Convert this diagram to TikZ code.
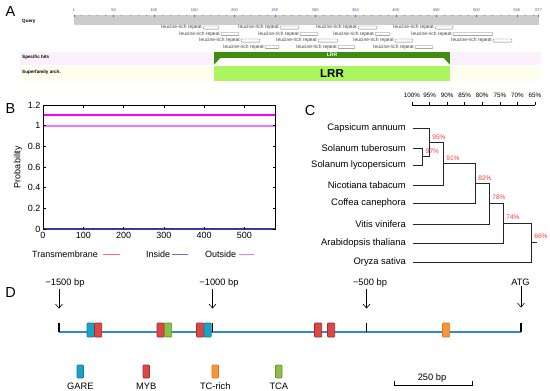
\documentclass[tikz,border=0pt]{standalone}
\usepackage{fontspec}
\setmainfont{Liberation Sans}
\usepackage{tikz}
\usetikzlibrary{arrows.meta}
\definecolor{rulergrey}{HTML}{CCCCCC}
\definecolor{rulerblue}{HTML}{4646C8}
\definecolor{hitpink}{HTML}{FCF0FC}
\definecolor{archyellow}{HTML}{FEFEEE}
\definecolor{lrrdark}{HTML}{3F8E0F}
\definecolor{lrrlight}{HTML}{AAF560}
\definecolor{tmred}{HTML}{FF7070}
\definecolor{inblue}{HTML}{6A6AF0}
\definecolor{outpink}{HTML}{FF70FF}
\definecolor{topmagenta}{HTML}{FF00FF}
\definecolor{zeroblue}{HTML}{3A3A9A}
\definecolor{pctred}{HTML}{FF3B3B}
\definecolor{seqblue}{HTML}{2E8BCB}
\definecolor{garefill}{HTML}{19A3C7}
\definecolor{gareline}{HTML}{137C98}
\definecolor{mybfill}{HTML}{DB4646}
\definecolor{mybline}{HTML}{A52A2A}
\definecolor{tcfill}{HTML}{F5963A}
\definecolor{tcline}{HTML}{DE7420}
\definecolor{tcafill}{HTML}{8DBE4B}
\definecolor{tcaline}{HTML}{6A962E}

\begin{document}
\begin{tikzpicture}[x=1pt,y=-1pt,
  panel/.style={font=\fontsize{14.5}{16}\selectfont,inner sep=0},
  hitlab/.style={font=\fontsize{4.6}{5}\selectfont\bfseries,anchor=west,inner sep=0},
  qnum/.style={font=\fontsize{4}{4}\selectfont,text=rulerblue,inner sep=0},
  replab/.style={font=\fontsize{4.9}{5}\selectfont,anchor=east,inner sep=0,text=black!75},
  repbox/.style={draw=black!55,line width=0.3pt,rounded corners=1pt},
  tick/.style={font=\fontsize{9}{10}\selectfont,inner sep=1pt},
  taxon/.style={anchor=east,font=\fontsize{9.4}{11}\selectfont,inner sep=0},
  scalelab/.style={font=\fontsize{6.3}{7}\selectfont,inner sep=0},
  pct/.style={text=pctred,font=\fontsize{6.6}{7}\selectfont,inner sep=0},
  branch/.style={line width=0.9pt,black!85},
  bplab/.style={font=\fontsize{9.3}{10}\selectfont,inner sep=1pt},
  darrow/.style={-{Straight Barb[length=4pt,width=7pt]},line width=0.6pt},
  site/.style={rounded corners=0.8pt,line width=0.7pt},
  gare/.style={site,fill=garefill,draw=gareline},
  myb/.style={site,fill=mybfill,draw=mybline},
  tcrich/.style={site,fill=tcfill,draw=tcline},
  tca/.style={site,fill=tcafill,draw=tcaline}]
  \useasboundingbox (0,0) rectangle (550,391);

  % panel A
  \node[panel] (pA) at (10.5,11.5) {A};
  \fill[rulergrey] (74,14.5) rectangle (539,24.5);
  \foreach \n in {10,20,...,570}
    \draw[black!45,line width=0.3pt] ({74+0.8066*(\n-1)},14.5) -- ++(0,1.5);
  \foreach \n in {1,50,100,150,200,250,300,350,400,450,500,550,577} {
    \draw[black!60,line width=0.3pt] ({74+0.8066*(\n-1)},14.5) -- ++(0,2.5);
    \node[qnum] (q\n) at ({74+0.8066*(\n-1)},10.5) {\n};
  }
  \node[hitlab] (qy) at (22,21.5) {Query};
  \foreach \a/\b/\y in {203/219/27.5,280/299/27.5,358/377/27.5,435/453/27.5,
      221/239/34,300/318/34,375/390/34,453/493/34,
      241/260/40.5,318/338/40.5,395/413/40.5,493/512/40.5,
      265/279/47,338/355/47,415/433/47} {
    \draw[repbox] (\a,\y-1.6) rectangle (\b,\y+1.6);
    \node[replab] (r\a) at (\a-1,\y) {leucine-rich repeat};
  }
  \fill[hitpink] (20,52) rectangle (541,65);
  \fill[archyellow] (20,65.5) rectangle (541,81);
  \node[hitlab] (sh) at (22,57) {Specific hits};
  \node[hitlab] (sa) at (22,72) {Superfamily arch.};
  \fill[lrrdark] (214,52) rectangle (450,65);
  \fill[white] (220.5,58) -- (443.5,58) -- (450,65) -- (214,65) -- cycle;
  \node[font=\fontsize{5}{5}\selectfont\bfseries,text=white,inner sep=0] (hitlrr) at (332,54.8) {LRR};
  \fill[lrrlight] (214,66) rectangle (450,81);
  \node[font=\fontsize{11.5}{12}\selectfont\bfseries,inner sep=0] (archlrr) at (332,73.5) {LRR};

  % panel B
  \node[panel] (pB) at (10.5,109) {B};
  \fill[outpink] (43.5,125) rectangle (275,126.6);
  \fill[topmagenta] (43.5,114.4) rectangle (275,116.2);
  \draw[line width=0.6pt] (43,105) rectangle (275.5,229);
  \draw[zeroblue,line width=1.2pt] (43,229) -- (275.5,229);
  \foreach \v in {0,0.2,0.4,0.6,0.8,1,1.2} {
    \draw[line width=0.4pt] (43,{229-103.33*\v}) -- ++(2.5,0);
    \draw[line width=0.4pt] (275.5,{229-103.33*\v}) -- ++(-2.5,0);
    \node[tick,anchor=east] at (41.5,{229-103.33*\v}) {\v};
  }
  \foreach \n in {0,100,...,500} {
    \draw[line width=0.4pt] ({43+0.40295*\n},229) -- ++(0,-2.5);
    \draw[line width=0.4pt] ({43+0.40295*\n},105) -- ++(0,2.5);
    \node[tick,anchor=north] at ({43+0.40295*\n},231) {\n};
  }
  \node[tick,rotate=90] (prob) at (18,167) {Probability};
  \node[tick,anchor=west,inner sep=0] (ltm) at (32,254) {Transmembrane};
  \draw[tmred,line width=0.6pt] ([xshift=5pt]ltm.east) -- ++(17,0);
  \node[tick,anchor=west,inner sep=0] (lin) at (146,254) {Inside};
  \draw[inblue,line width=0.6pt] ([xshift=2pt]lin.east) -- ++(16,0);
  \node[tick,anchor=west,inner sep=0] (lout) at (205,254) {Outside};
  \draw[outpink,line width=0.6pt] ([xshift=3pt]lout.east) -- ++(15,0);

  % panel C
  \node[panel] (pC) at (310,110.5) {C};
  \draw[line width=0.7pt] (412,105) -- (535,105);
  \foreach \p [count=\i from 0] in {100,95,...,65} {
    \draw[line width=0.6pt] (412+17.57*\i,105) -- ++(0,-3.5);
    \node[scalelab] (s\p) at (412+17.57*\i,95) {\p\%};
  }
  \node[taxon] (capsicum) at (406,128) {Capsicum annuum};
  \node[taxon] (tuberosum) at (406,148) {Solanum tuberosum};
  \node[taxon] (lycopersicum) at (406,165) {Solanum lycopersicum};
  \node[taxon] (nicotiana) at (406,185) {Nicotiana tabacum};
  \node[taxon] (coffea) at (406,203) {Coffea canephora};
  \node[taxon] (vitis) at (406,224) {Vitis vinifera};
  \node[taxon] (arabidopsis) at (406,243) {Arabidopsis thaliana};
  \node[taxon] (oryza) at (406,262) {Oryza sativa};
  \coordinate (n97) at (422.5,156.5);
  \coordinate (n95) at (429.6,142.2);
  \coordinate (n91) at (443.6,163.6);
  \coordinate (n82) at (475.2,183.3);
  \coordinate (n78) at (489.3,203.7);
  \coordinate (n74) at (503.4,223.3);
  \coordinate (n66) at (531.5,242.7);
  \draw[branch] ([xshift=7pt]tuberosum.east) -| (n97) |- ([xshift=7pt]lycopersicum.east);
  \draw[branch] ([xshift=7pt]capsicum.east) -| (n95) |- (n97);
  \draw[branch] (n95) -| (n91) |- ([xshift=7pt]nicotiana.east);
  \draw[branch] (n91) -| (n82) |- ([xshift=7pt]coffea.east);
  \draw[branch] (n82) -| (n78) |- ([xshift=7pt]vitis.east);
  \draw[branch] (n78) -| (n74) |- ([xshift=7pt]arabidopsis.east);
  \draw[branch] (n74) -| (n66) |- ([xshift=7pt]oryza.east);
  \draw[branch] (n66) -- ++(5,0);
  \node[pct] (b95) at (439,137) {95\%};
  \node[pct] (b97) at (432.5,151) {97\%};
  \node[pct] (b91) at (453,158) {91\%};
  \node[pct] (b82) at (485,178) {82\%};
  \node[pct] (b78) at (499,197) {78\%};
  \node[pct] (b74) at (513,217) {74\%};
  \node[pct] (b66) at (541,236) {66\%};

  % panel D
  \node[panel] (pD) at (10.5,293) {D};
  \coordinate (p1500) at (59,332);
  \coordinate (p1000) at (212.5,332);
  \coordinate (p500) at (366.5,332);
  \coordinate (patg) at (521,332);
  \draw[seqblue,line width=1.6pt] (p1500) -- (patg);
  \foreach \c in {p1500,p1000,p500,patg}
    \draw[line width=1.5pt] (\c) -- ++(0,-9.5);
  \node[bplab] (l1500) at (65,283) {−1500 bp};
  \node[bplab] (l1000) at (219,283) {−1000 bp};
  \node[bplab] (l500) at (370,283) {−500 bp};
  \node[bplab] (latg) at (520.5,282) {ATG};
  \draw[darrow] (l1500.south -| p1500) -- ++(0,20);
  \draw[darrow] (l1000.south -| p1000) -- ++(0,20);
  \draw[darrow] (l500.south -| p500) -- ++(0,20);
  \draw[darrow] (latg.south -| patg) -- ++(0,21);
  \foreach \a/\s in {87/gare,94.5/myb,157/myb,164.5/tca,196.5/myb,204/gare,
      314.5/myb,327.5/myb,442.5/tcrich}
    \draw[\s] (\a,323) rectangle ++(7.2,14);
  \draw[gare] (77,365) rectangle ++(6.5,13);
  \node[bplab] (kgare) at (80.3,386) {GARE};
  \draw[myb] (143,365) rectangle ++(6.5,13);
  \node[bplab] (kmyb) at (146.3,386) {MYB};
  \draw[tcrich] (212,365) rectangle ++(6.5,13);
  \node[bplab] (ktc) at (215.3,386) {TC-rich};
  \draw[tca] (275.5,365) rectangle ++(6.5,13);
  \node[bplab] (ktca) at (278.8,386) {TCA};
  \coordinate (sb0) at (394,385);
  \coordinate (sb1) at (472,385);
  \draw[line width=0.6pt] ([yshift=4.5pt]sb0) -- (sb0) -- (sb1) -- ([yshift=4.5pt]sb1);
  \node[bplab] (sblab) at (432,378.5) {250 bp};
\end{tikzpicture}
\end{document}
